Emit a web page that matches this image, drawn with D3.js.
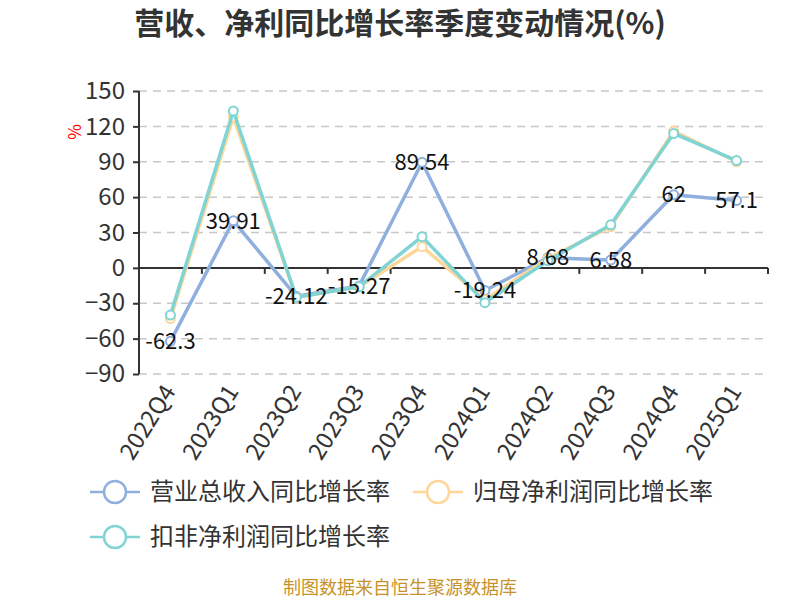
<!DOCTYPE html>
<html><head><meta charset="utf-8">
<script src="https://cdn.jsdelivr.net/npm/d3@7/dist/d3.min.js"></script>
<style>body{margin:0;background:#fff}svg{display:block}text{font-family:"Noto Sans CJK SC","Noto Sans",sans-serif}</style>
</head><body><svg id="c" width="800" height="600"></svg>
<script>
const categories = ["2022Q4","2023Q1","2023Q2","2023Q3","2023Q4","2024Q1","2024Q2","2024Q3","2024Q4","2025Q1"];
const revenueGrowth = [-62.3, 39.91, -24.12, -15.27, 89.54, -19.24, 8.68, 6.58, 62, 57.1];
const netProfitGrowth = [-43, 128, -25, -16, 18, -27, 8, 35, 116, 90];
const deductedProfitGrowth = [-40, 133, -25, -16, 26.5, -29.5, 6, 36.5, 114, 91];
const yTicks = [-90, -60, -30, 0, 30, 60, 90, 120, 150];
const seriesNames = ["营业总收入同比增长率","归母净利润同比增长率","扣非净利润同比增长率"];
const colors = ["#8fb0de","#ffd699","#80d4d4"];

const svg = d3.select("#c");
const pL = 139, pR = 768, pT = 91, pB = 374;
const x = d3.scaleBand().domain(categories).range([pL, pR]);
const y = d3.scaleLinear().domain([-90, 150]).range([pB, pT]);

// title
svg.append("text").attr("x", 400).attr("y", 34).attr("text-anchor","middle")
  .attr("font-size", 30).attr("font-weight","bold").attr("fill","#333")
  .text("营收、净利同比增长率季度变动情况(%)");

// grid
svg.append("g").selectAll("line").data(yTicks.filter(d=>d!==0)).join("line")
  .attr("x1", pL).attr("x2", pR).attr("y1", d=>y(d)).attr("y2", d=>y(d))
  .attr("stroke","#c8c8c8").attr("stroke-width",1.5).attr("stroke-dasharray","8,6");

// y axis
const ya = svg.append("g").attr("transform",`translate(${pL},0)`)
  .call(d3.axisLeft(y).tickValues(yTicks).tickSize(6).tickPadding(8));
ya.select(".domain").attr("stroke","#333").attr("stroke-width",2).attr("d",`M0,${pT}V${pB}`);
ya.selectAll(".tick line").attr("stroke","#333").attr("stroke-width",2);
ya.selectAll(".tick text").attr("font-size",24).attr("fill","#333")
  .attr("font-family","'Noto Sans',sans-serif");

// y unit
svg.append("text").attr("transform","translate(81,132) rotate(-90)").attr("text-anchor","middle")
  .attr("font-size",17).attr("fill","#ff0000").text("%");

// x axis at zero
const xa = svg.append("g").attr("transform",`translate(0,${y(0)})`);
xa.append("path").attr("stroke","#333").attr("stroke-width",2).attr("fill","none").attr("d",`M${pL},0H${pR}`);
const bounds = categories.map(c=>x(c)+x.bandwidth());
xa.selectAll("line.bt").data(bounds).join("line").attr("class","bt")
  .attr("x1",d=>d).attr("x2",d=>d).attr("y1",0).attr("y2",6).attr("stroke","#333").attr("stroke-width",2);

// x labels
svg.append("g").selectAll("text").data(categories).join("text")
  .attr("transform", d=>`translate(${x(d)+x.bandwidth()/2-1},${pB+13}) rotate(-58)`)
  .attr("text-anchor","end").attr("dy","0.35em").attr("font-size",23.5).attr("fill","#333")
  .attr("font-family","'Noto Sans',sans-serif").text(d=>d);

// lines
const allSeries = [revenueGrowth, netProfitGrowth, deductedProfitGrowth];
const line = d3.line().x((d,i)=>x(categories[i])+x.bandwidth()/2).y(d=>y(d));
allSeries.forEach((s,k)=>{
  svg.append("path").datum(s).attr("d",line).attr("fill","none")
    .attr("stroke",colors[k]).attr("stroke-width",3.5).attr("stroke-linejoin","round");
  svg.append("g").selectAll("circle").data(s).join("circle")
    .attr("cx",(d,i)=>x(categories[i])+x.bandwidth()/2).attr("cy",d=>y(d)).attr("r",4.5)
    .attr("fill","#fff").attr("stroke",colors[k]).attr("stroke-width",2);
});

// labels for revenue
svg.append("g").selectAll("text").data(revenueGrowth).join("text")
  .attr("x",(d,i)=>x(categories[i])+x.bandwidth()/2).attr("y",d=>y(d)).attr("dy","0.35em")
  .attr("text-anchor","middle").attr("font-size",22).attr("fill","#111")
  .attr("font-family","'Noto Sans',sans-serif").text(d=>d);

// legend
const legendPos = [[90,492],[413,492],[90,537]];
seriesNames.forEach((n,k)=>{
  const [lx,ly] = legendPos[k];
  const g = svg.append("g").attr("transform",`translate(${lx},${ly})`);
  g.append("line").attr("x1",0).attr("x2",50).attr("stroke",colors[k]).attr("stroke-width",2.5);
  g.append("circle").attr("cx",25).attr("r",11).attr("fill","#fff").attr("stroke",colors[k]).attr("stroke-width",2.5);
  g.append("text").attr("x",60).attr("dy","0.35em").attr("font-size",24).attr("fill","#333").text(n);
});

// footer
svg.append("text").attr("x",400).attr("y",594).attr("text-anchor","middle")
  .attr("font-size",18).attr("fill","#c8922a").text("制图数据来自恒生聚源数据库");
</script></body></html>
